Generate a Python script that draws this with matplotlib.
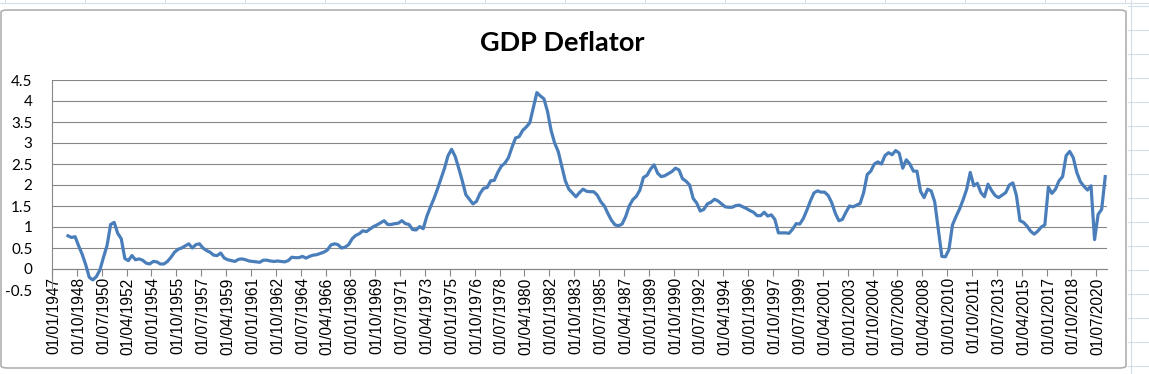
import matplotlib
matplotlib.use("Agg")
import matplotlib.pyplot as plt
from matplotlib.lines import Line2D
from matplotlib.patches import FancyBboxPatch
import numpy as np

# ---------------- data ----------------
title = "GDP Deflator"

# quarterly values, 1947Q1 .. 2021Q1 (first four quarters blank)
deflator = [
    None, None, None, None,
    0.79, 0.75, 0.77, 0.55, 0.35, 0.10, -0.20, -0.26, -0.18, -0.02,
    0.28, 0.56, 1.06, 1.11, 0.85, 0.72, 0.25, 0.20, 0.32, 0.22,
    0.24, 0.21, 0.14, 0.12, 0.18, 0.17, 0.12, 0.12, 0.18, 0.28,
    0.40, 0.47, 0.50, 0.55, 0.60, 0.50, 0.58, 0.60, 0.50, 0.44,
    0.40, 0.33, 0.32, 0.38, 0.26, 0.22, 0.20, 0.18, 0.23, 0.24,
    0.22, 0.19, 0.18, 0.17, 0.16, 0.21, 0.21, 0.19, 0.18, 0.19,
    0.18, 0.17, 0.20, 0.28, 0.27, 0.27, 0.30, 0.26, 0.30, 0.33,
    0.34, 0.37, 0.40, 0.45, 0.57, 0.60, 0.58, 0.50, 0.52, 0.58,
    0.72, 0.80, 0.84, 0.91, 0.89, 0.95, 1.01, 1.05, 1.10, 1.15,
    1.06, 1.06, 1.08, 1.09, 1.15, 1.08, 1.06, 0.94, 0.93, 1.01,
    0.96, 1.25, 1.47, 1.67, 1.90, 2.15, 2.40, 2.70, 2.85, 2.68,
    2.40, 2.10, 1.77, 1.66, 1.55, 1.61, 1.80, 1.92, 1.94, 2.10,
    2.11, 2.30, 2.45, 2.52, 2.65, 2.90, 3.12, 3.15, 3.30, 3.38,
    3.48, 3.84, 4.20, 4.12, 4.05, 3.75, 3.30, 3.00, 2.80, 2.45,
    2.10, 1.90, 1.81, 1.72, 1.82, 1.90, 1.85, 1.84, 1.84, 1.76,
    1.60, 1.50, 1.32, 1.16, 1.05, 1.03, 1.07, 1.25, 1.50, 1.65,
    1.73, 1.88, 2.18, 2.23, 2.38, 2.48, 2.28, 2.20, 2.22, 2.27,
    2.32, 2.40, 2.36, 2.15, 2.09, 2.00, 1.68, 1.57, 1.38, 1.42,
    1.55, 1.59, 1.66, 1.62, 1.55, 1.48, 1.47, 1.47, 1.51, 1.52,
    1.48, 1.44, 1.39, 1.35, 1.27, 1.27, 1.35, 1.26, 1.29, 1.18,
    0.86, 0.86, 0.86, 0.85, 0.95, 1.08, 1.07, 1.20, 1.40, 1.62,
    1.81, 1.86, 1.83, 1.83, 1.75, 1.58, 1.33, 1.15, 1.18, 1.35,
    1.50, 1.48, 1.52, 1.56, 1.82, 2.25, 2.33, 2.50, 2.55, 2.50,
    2.70, 2.77, 2.72, 2.82, 2.76, 2.40, 2.60, 2.50, 2.33, 2.33,
    1.85, 1.70, 1.90, 1.86, 1.60, 0.95, 0.30, 0.29, 0.46, 1.05,
    1.25, 1.43, 1.65, 1.90, 2.30, 1.98, 2.04, 1.82, 1.72, 2.02,
    1.87, 1.75, 1.70, 1.76, 1.82, 2.00, 2.05, 1.75, 1.15, 1.11,
    1.02, 0.90, 0.83, 0.90, 1.00, 1.05, 1.95, 1.80, 1.90, 2.10,
    2.20, 2.70, 2.80, 2.65, 2.30, 2.08, 1.97, 1.88, 1.98, 0.70,
    1.30, 1.42, 2.20,
]

# category axis labels (every 7th quarter)
tick_labels = [
    "01/01/1947", "01/10/1948", "01/07/1950", "01/04/1952", "01/01/1954",
    "01/10/1955", "01/07/1957", "01/04/1959", "01/01/1961", "01/10/1962",
    "01/07/1964", "01/04/1966", "01/01/1968", "01/10/1969", "01/07/1971",
    "01/04/1973", "01/01/1975", "01/10/1976", "01/07/1978", "01/04/1980",
    "01/01/1982", "01/10/1983", "01/07/1985", "01/04/1987", "01/01/1989",
    "01/10/1990", "01/07/1992", "01/04/1994", "01/01/1996", "01/10/1997",
    "01/07/1999", "01/04/2001", "01/01/2003", "01/10/2004", "01/07/2006",
    "01/04/2008", "01/01/2010", "01/10/2011", "01/07/2013", "01/04/2015",
    "01/01/2017", "01/10/2018", "01/07/2020",
]
label_step = 7

y_ticks = [-0.5, 0, 0.5, 1, 1.5, 2, 2.5, 3, 3.5, 4, 4.5]
y_tick_labels = ["-0.5", "0", "0.5", "1", "1.5", "2", "2.5", "3", "3.5", "4", "4.5"]

# ---------------- figure ----------------
W, H = 1149, 374
fig = plt.figure(figsize=(W / 100, H / 100), dpi=100)
fig.patch.set_facecolor("white")

# spreadsheet grid visible around the chart object
grid_col = "#d5dde8"
for yy in range(6, H, 24):
    fig.add_artist(Line2D([1128 / W, 1.0], [1 - yy / H] * 2, color=grid_col, lw=0.8))
fig.add_artist(Line2D([1131 / W] * 2, [0, 1], color=grid_col, lw=0.8))
fig.add_artist(Line2D([0, 1], [1 - 3 / H] * 2, color=grid_col, lw=0.8))
for xx in range(5, 1128, 80):
    fig.add_artist(Line2D([xx / W] * 2, [1 - 0 / H, 1 - 3 / H], color=grid_col, lw=0.8))

# chart object border
border = FancyBboxPatch((1 / W, 1 - 368 / H), 1125 / W, 358 / H,
                        boxstyle="round,pad=0,rounding_size=0.006",
                        transform=fig.transFigure, facecolor="white",
                        edgecolor="#b0b0b0", lw=1.2, zorder=0)
fig.add_artist(border)

# plot area
ax_l, ax_r, ax_t, ax_b = 52, 1107, 80, 290
ax = fig.add_axes([ax_l / W, 1 - ax_b / H, (ax_r - ax_l) / W, (ax_b - ax_t) / H])
ax.set_facecolor("none")

n = len(deflator)
x = np.arange(n)
y = np.array([np.nan if v is None else v for v in deflator], dtype=float)

ax.plot(x, y, color="#4A7EBB", lw=2.3, solid_joinstyle="round", zorder=3)

ax.set_xlim(-0.5, n - 0.5)
ax.set_ylim(-0.5, 4.5)

# y axis
ax.set_yticks(y_ticks)
ax.set_yticklabels(y_tick_labels, fontfamily="Lato", fontsize=11)
ax.tick_params(axis="y", length=0, pad=14)
ax.grid(axis="y", color="#868686", lw=0.8)
ax.set_axisbelow(True)

# category axis crossing at 0
ax.spines["top"].set_visible(False)
ax.spines["right"].set_visible(False)
ax.spines["left"].set_color("#868686")
ax.spines["left"].set_linewidth(0.8)
ax.spines["bottom"].set_position(("data", 0))
ax.spines["bottom"].set_color("#868686")
ax.spines["bottom"].set_linewidth(0.8)

label_pos = [i * label_step for i in range(len(tick_labels))]
ax.set_xticks(label_pos)
ax.set_xticklabels(tick_labels, rotation=90, fontfamily="Liberation Sans",
                   fontsize=11.2, va="top", ha="center")
ax.tick_params(axis="x", which="major", length=0, pad=6)
ax.set_xticks([p - 0.5 for p in label_pos], minor=True)
ax.tick_params(axis="x", which="minor", length=5, width=0.8, color="#868686", direction="out")

# title
fig.text(562 / W, 1 - 43 / H, title, ha="center", va="center",
         fontfamily="Lato", fontweight="bold", fontsize=19.5)

fig.savefig("out.png", dpi=100)
